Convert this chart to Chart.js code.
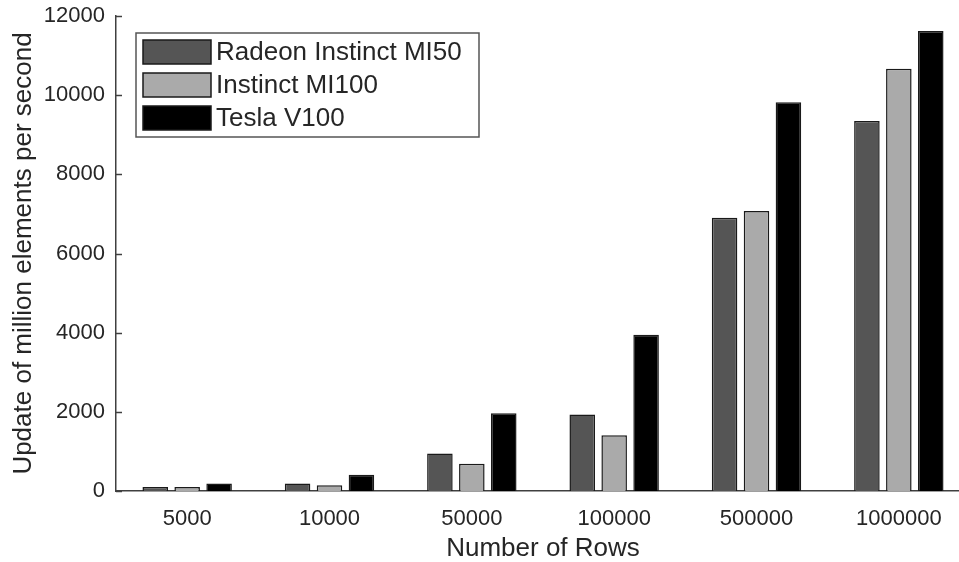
<!DOCTYPE html>
<html>
<head>
<meta charset="utf-8">
<script src="https://cdn.jsdelivr.net/npm/chart.js@4.4.0/dist/chart.umd.min.js"></script>
<style>
  html, body { margin: 0; padding: 0; background: #fff; overflow: hidden; }
  #wrap { width: 959px; height: 562px; overflow: hidden; position: relative; }
  canvas { position: absolute; left: 0; top: 0; }
</style>
</head>
<body>
<div id="wrap">
  <canvas id="barChart" width="980" height="562"></canvas>
</div>
<script>
const rows = ['5000', '10000', '50000', '100000', '500000', '1000000'];
const mi50 = [100, 190, 945, 1935, 6905, 9350];
const mi100 = [100, 145, 690, 1410, 7075, 10665];
const v100 = [190, 410, 1965, 3950, 9820, 11620];
const yTicks = [0, 2000, 4000, 6000, 8000, 10000, 12000];

const FONT = "'Liberation Sans', Arial, sans-serif";
const INK = '#262626';

// inward y ticks, like the original
const innerTicks = {
  id: 'innerTicks',
  afterDraw(chart) {
    const ctx = chart.ctx;
    const y = chart.scales.y;
    const left = chart.chartArea.left;
    ctx.save();
    ctx.strokeStyle = '#404040';
    ctx.lineWidth = 1.5;
    yTicks.forEach(v => {
      const py = Math.round(y.getPixelForValue(v)) + 0.5;
      ctx.beginPath();
      ctx.moveTo(left, py);
      ctx.lineTo(left + 6, py);
      ctx.stroke();
    });
    ctx.restore();
  }
};

// boxed legend in the top-left corner
const boxLegend = {
  id: 'boxLegend',
  afterDraw(chart) {
    const ctx = chart.ctx;
    const sets = chart.data.datasets;
    ctx.save();
    ctx.fillStyle = '#fff';
    ctx.fillRect(136, 33, 343, 104);
    ctx.strokeStyle = '#555';
    ctx.lineWidth = 1.5;
    ctx.strokeRect(136, 33, 343, 104);
    ctx.font = '26px ' + FONT;
    ctx.textBaseline = 'middle';
    sets.forEach((ds, i) => {
      const top = 40 + i * 33;
      ctx.fillStyle = ds.backgroundColor;
      ctx.fillRect(143, top, 68, 24);
      ctx.strokeStyle = '#1a1a1a';
      ctx.lineWidth = 1.5;
      ctx.strokeRect(143, top, 68, 24);
      ctx.fillStyle = INK;
      ctx.fillText(ds.label, 216, top + 13);
    });
    ctx.restore();
  }
};

const bar = {
  borderWidth: 1.5,
  borderColor: '#1a1a1a',
  categoryPercentage: 0.673,
  barPercentage: 0.8
};

new Chart(document.getElementById('barChart'), {
  type: 'bar',
  data: {
    labels: rows,
    datasets: [
      { label: 'Radeon Instinct MI50', data: mi50, backgroundColor: '#555555', ...bar },
      { label: 'Instinct MI100', data: mi100, backgroundColor: '#aaaaaa', ...bar },
      { label: 'Tesla V100', data: v100, backgroundColor: '#000000', ...bar }
    ]
  },
  options: {
    responsive: false,
    animation: false,
    layout: { padding: { top: 16, right: 10, left: 0, bottom: 0 } },
    plugins: {
      legend: { display: false },
      tooltip: { enabled: false }
    },
    scales: {
      x: {
        type: 'category',
        offset: true,
        grid: { display: false },
        border: { display: true, color: '#404040', width: 1.5 },
        ticks: { color: INK, font: { family: FONT, size: 22 }, padding: 7 },
        title: {
          display: true,
          text: 'Number of Rows',
          color: INK,
          font: { family: FONT, size: 26 },
          padding: { top: 0, bottom: -2 }
        },
        afterFit(scale) { scale.height = 71; }
      },
      y: {
        min: 0,
        max: 12000,
        grid: { display: false, drawTicks: false },
        border: { display: true, color: '#404040', width: 1.5 },
        afterBuildTicks(scale) { scale.ticks = yTicks.map(v => ({ value: v })); },
        ticks: {
          color: INK,
          font: { family: FONT, size: 22 },
          padding: 11,
          callback: v => String(v)
        },
        title: {
          display: true,
          text: 'Update of million elements per second',
          color: INK,
          font: { family: FONT, size: 26 },
          padding: { top: 8, bottom: 0 }
        },
        afterFit(scale) {
          scale.width = 116;
          scale.paddingTop = 0;
          scale.paddingBottom = 0;
        }
      }
    }
  },
  plugins: [innerTicks, boxLegend]
});
</script>
</body>
</html>
